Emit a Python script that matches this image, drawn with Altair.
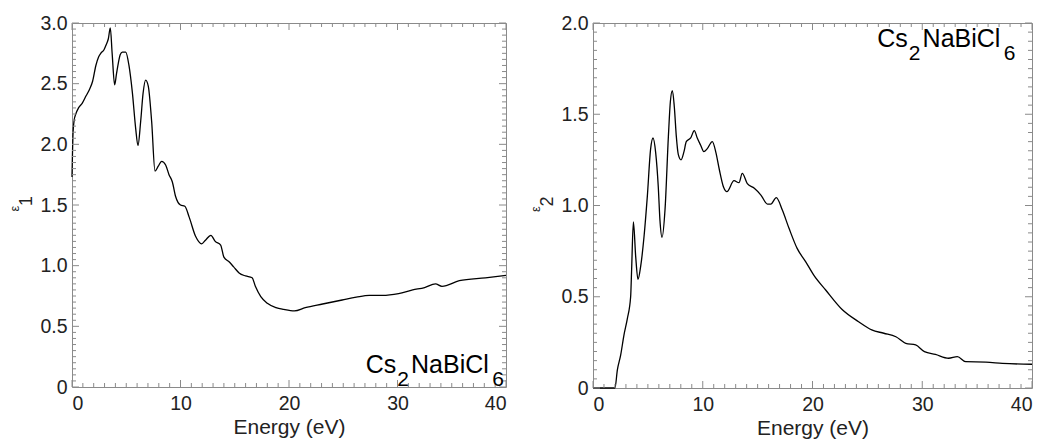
import altair as alt
import pandas as pd

# ---- data ----
E1_energy = [0, 0.1, 0.2, 0.35, 0.6, 0.95, 1.3, 1.6, 1.9, 2.2, 2.45, 2.65, 2.95, 3.15, 3.35, 3.53,
             3.7, 3.93, 4.1, 4.27, 4.45, 4.64, 4.95, 5.25, 5.56, 5.87, 6.08, 6.33, 6.55, 6.79, 7.03,
             7.34, 7.65, 7.95, 8.26, 8.63, 8.94, 9.25, 9.55, 10.0, 10.4, 10.8, 11.4, 11.95, 12.3,
             12.8, 13.2, 13.7, 14.0, 14.5, 14.9, 15.4, 16.0, 16.6, 16.9, 17.4, 18.0, 18.8, 19.5,
             20.5, 21.5, 23.1, 24.9, 26.2, 27.4, 28.6, 30.1, 31.4, 32.5, 33.5, 34.1, 35.7, 38.1, 40.0]
E1_value = [1.73, 2.10, 2.20, 2.25, 2.30, 2.34, 2.40, 2.45, 2.52, 2.65, 2.72, 2.75, 2.78, 2.82, 2.87, 2.96,
            2.75, 2.49, 2.58, 2.67, 2.74, 2.76, 2.76, 2.65, 2.43, 2.13, 1.99, 2.19, 2.42, 2.53, 2.48,
            2.19, 1.78, 1.82, 1.86, 1.83, 1.75, 1.69, 1.57, 1.50, 1.49, 1.40, 1.24, 1.18, 1.21,
            1.25, 1.20, 1.17, 1.07, 1.03, 0.99, 0.94, 0.915, 0.90, 0.83, 0.745, 0.69, 0.655, 0.64,
            0.627, 0.654, 0.684, 0.717, 0.74, 0.755, 0.755, 0.77, 0.80, 0.82, 0.85, 0.83, 0.876, 0.90, 0.92]

E2_energy = [0, 2.0, 2.22, 2.52, 2.82, 3.13, 3.43, 3.52, 3.68, 3.89, 4.1, 4.34, 4.65, 4.95, 5.25, 5.47,
             5.71, 5.95, 6.1, 6.29, 6.56, 6.87, 7.05, 7.23, 7.41, 7.59, 7.77, 8.02, 8.29, 8.5, 8.9,
             9.23, 9.5, 9.81, 10.1, 10.4, 10.87, 11.2, 11.5, 11.9, 12.2, 12.85, 13.3, 13.6, 14.06,
             14.7, 15.3, 15.9, 16.2, 16.7, 17.25, 17.86, 18.6, 19.4, 20.1, 21.2, 22.7, 24.2, 25.4,
             26.5, 27.6, 28.5, 29.4, 30.2, 31.2, 32.4, 33.2, 33.96, 35.8, 37.3, 40.0]
E2_value = [0, 0, 0.099, 0.18, 0.29, 0.38, 0.50, 0.65, 0.91, 0.72, 0.595, 0.665, 0.83, 1.05, 1.31, 1.37,
            1.29, 1.10, 0.92, 0.826, 0.975, 1.38, 1.57, 1.63, 1.54, 1.38, 1.28, 1.25, 1.295, 1.35, 1.37,
            1.41, 1.37, 1.33, 1.295, 1.31, 1.35, 1.29, 1.20, 1.10, 1.076, 1.136, 1.125, 1.176, 1.12,
            1.094, 1.057, 1.008, 1.008, 1.043, 0.975, 0.875, 0.765, 0.69, 0.62, 0.537, 0.43, 0.363, 0.318,
            0.30, 0.281, 0.245, 0.236, 0.199, 0.184, 0.163, 0.172, 0.144, 0.142, 0.135, 0.13]

X_MAJOR = [0, 10, 20, 30, 40]
X_MINOR = [i for i in range(0, 41) if i % 10 != 0]
Y1_MAJOR = [0, 0.5, 1.0, 1.5, 2.0, 2.5, 3.0]
Y1_MINOR = [round(i * 0.05, 2) for i in range(0, 61) if i % 10 != 0]
Y2_MAJOR = [0, 0.5, 1.0, 1.5, 2.0]
Y2_MINOR = [round(i * 0.05, 2) for i in range(0, 41) if i % 10 != 0]

FONT = "Liberation Sans"
TXT = "#222222"
FRAME = "#8a8a8a"
MAJ, MIN = 7, 4
LFS = 19.5


def panel(energy, value, ymax, ymaj, ymin, W, H, sub, lab_pos):
    df = pd.DataFrame({"E": energy, "v": value})
    xs = alt.Scale(domain=[0, 40], nice=False, zero=False)
    ys = alt.Scale(domain=[0, ymax], nice=False, zero=False)
    xax = alt.Axis(
        values=X_MAJOR, title="Energy (eV)", domain=False, ticks=False, tickSize=0, grid=False,
        labelFont=FONT, labelFontSize=LFS, labelColor=TXT, labelPadding=7,
        titleFont=FONT, titleFontSize=21, titleColor=TXT, titleFontWeight="normal", titlePadding=4)
    yax = alt.Axis(
        values=ymaj, title=None, domain=False, ticks=False, tickSize=0, grid=False,
        labelExpr="datum.value == 0 ? '0' : format(datum.value, '.1f')",
        labelFont=FONT, labelFontSize=LFS, labelColor=TXT, labelPadding=5)
    line = alt.Chart(df).mark_line(color="black", strokeWidth=1.3, interpolate="monotone").encode(
        x=alt.X("E:Q", scale=xs, axis=xax),
        y=alt.Y("v:Q", scale=ys, axis=yax),
    )
    layers = [line]
    xmaj = pd.DataFrame({"E": X_MAJOR})
    xmin = pd.DataFrame({"E": X_MINOR})
    ymj = pd.DataFrame({"v": ymaj})
    ymn = pd.DataFrame({"v": ymin})
    for d, L in ((xmaj, MAJ), (xmin, MIN)):
        base = alt.Chart(d).mark_rule(color=FRAME, strokeWidth=1)
        layers.append(base.encode(x=alt.X("E:Q", scale=xs, axis=xax), y=alt.value(H), y2=alt.value(H - L)))
        layers.append(base.encode(x=alt.X("E:Q", scale=xs, axis=xax), y=alt.value(0), y2=alt.value(L)))
    for d, L in ((ymj, MAJ), (ymn, MIN)):
        base = alt.Chart(d).mark_rule(color=FRAME, strokeWidth=1)
        layers.append(base.encode(y=alt.Y("v:Q", scale=ys, axis=yax), x=alt.value(0), x2=alt.value(L)))
        layers.append(base.encode(y=alt.Y("v:Q", scale=ys, axis=yax), x=alt.value(W), x2=alt.value(W - L)))

    one = pd.DataFrame({"a": [0]})
    # y-axis title (epsilon with subscript)
    layers.append(alt.Chart(one).mark_text(text="ε", font=FONT, fontSize=13, angle=270, align="center",
                                           baseline="alphabetic", color=TXT)
                  .encode(x=alt.value(-53), y=alt.value(H / 2 + 3.5)))
    layers.append(alt.Chart(one).mark_text(text=sub, font=FONT, fontSize=18, angle=270, align="center",
                                           baseline="alphabetic", color=TXT)
                  .encode(x=alt.value(-40), y=alt.value(H / 2 - 4)))
    # compound label Cs2NaBiCl6
    (x0, yb) = lab_pos
    pieces = [("Cs", 0, 0, 25), ("2", 31.5, 13.3, 21), ("NaBiCl", 45.3, 0, 25), ("6", 126.5, 13.3, 21)]
    for t, dx, dy, fs in pieces:
        layers.append(alt.Chart(one).mark_text(text=t, font=FONT, fontSize=fs, align="left",
                                               baseline="alphabetic", color="black")
                      .encode(x=alt.value(x0 + dx), y=alt.value(yb + dy)))
    return alt.layer(*layers).properties(width=W, height=H)


left = panel(E1_energy, E1_value, 3.0, Y1_MAJOR, Y1_MINOR, 434, 364, "1", (293.7, 349.7))
right = panel(E2_energy, E2_value, 2.0, Y2_MAJOR, Y2_MINOR, 439, 365, "2", (284.3, 23.7))

chart = alt.hconcat(left, right, spacing=87, bounds="flush").properties(
    padding={"left": 0, "top": 4, "right": 0, "bottom": 0}
).configure_view(stroke=FRAME, strokeWidth=1)

chart.save("out.html", embed_options={"renderer": "svg", "actions": False})
